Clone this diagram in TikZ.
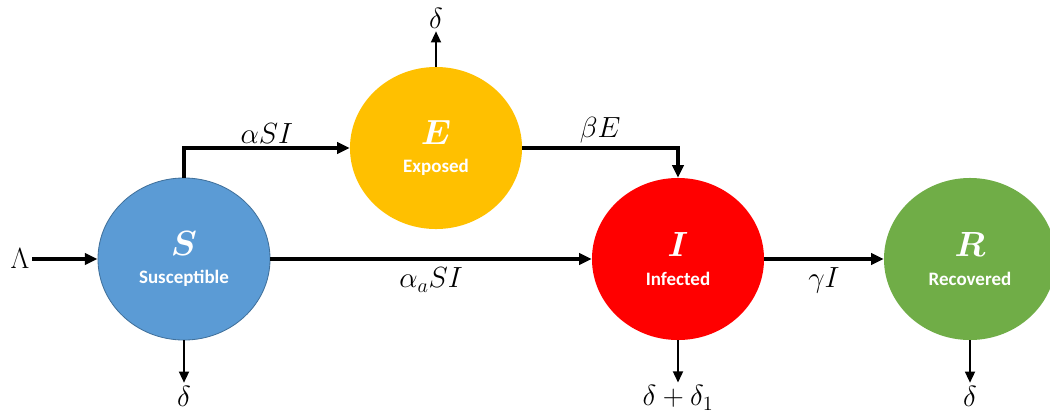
\documentclass[tikz,border=0pt]{standalone}
\usepackage{amsmath}
\usepackage{fontspec}
\usetikzlibrary{shapes.geometric,arrows.meta}
\newfontfamily\compfont{Carlito}
\definecolor{sblue}{HTML}{5B9BD5}
\definecolor{sborder}{HTML}{41719C}
\definecolor{eyellow}{HTML}{FFC000}
\definecolor{ired}{HTML}{FF0000}
\definecolor{rgreen}{HTML}{70AD47}
\tikzset{
  comp/.style={ellipse,inner sep=0pt,minimum width=4.3cm,minimum height=4.05cm,
    text=white,align=center,font=\compfont\bfseries\fontsize{13.5}{20}\selectfont},
  flow/.style={line width=2.4pt,-{Triangle[length=9pt,width=8pt]}},
  loss/.style={line width=1.6pt,-{Triangle[length=8pt,width=7pt]}},
  rate/.style={font=\fontsize{20}{24}\selectfont,inner sep=2pt}
}
\newcommand{\compname}[1]{{\fontsize{23}{24}\selectfont$\boldsymbol{#1}$}}
\begin{document}
\begin{tikzpicture}[x=0.025cm,y=-0.025cm]
\useasboundingbox (0,0) rectangle (1050,416);
\node[comp,fill=sblue,draw=sborder,line width=0.6pt] (S) at (184,259) {\compname{S}\\Susceptible};
\node[comp,fill=eyellow] (E) at (436,148) {\compname{E}\\Exposed};
\node[comp,fill=ired] (I) at (678,259) {\compname{I}\\Infected};
\node[comp,fill=rgreen] (R) at (970,259) {\compname{R}\\Recovered};
\node[rate] (L) at (20,259) {$\Lambda$};
\node[rate] (dS) at (184,396) {$\delta$};
\node[rate] (dE) at (436,18) {$\delta$};
\node[rate] (dI) at (678,398) {$\delta+\delta_1$};
\node[rate] (dR) at (970,396) {$\delta$};
\draw[flow] (L) -- (S.west);
\draw[flow] (S.north) |- (E.west) node[rate,pos=0.75,above] {$\alpha SI$};
\draw[flow] (E.east) -| (I.north) node[rate,pos=0.25,above] {$\beta E$};
\draw[flow] (S.east) -- (I.west) node[rate,midway,below=3pt] {$\alpha_a SI$};
\draw[flow] (I.east) -- (R.west) node[rate,midway,below=3pt] {$\gamma I$};
\draw[loss] (S.south) -- (dS.north);
\draw[loss] (E.north) -- (dE.south);
\draw[loss] (I.south) -- (I.south |- dI.north);
\draw[loss] (R.south) -- (dR.north);
\end{tikzpicture}
\end{document}
